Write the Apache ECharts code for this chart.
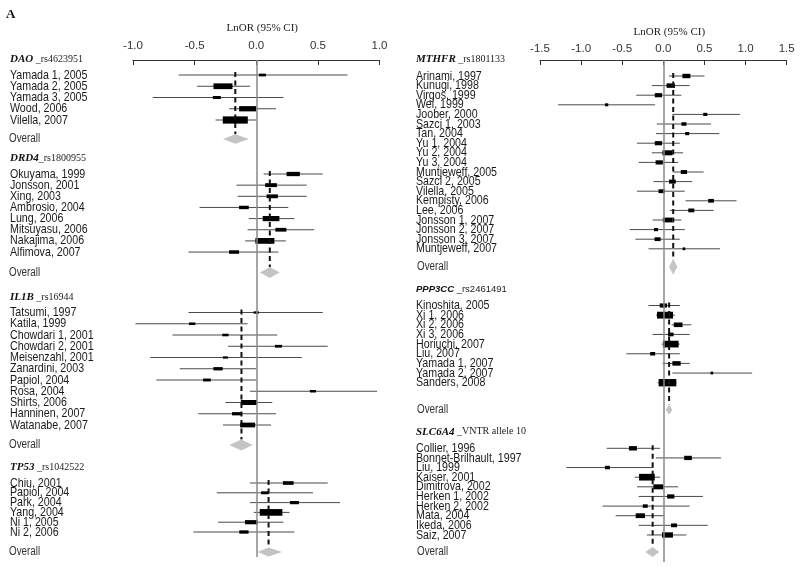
<!DOCTYPE html>
<html>
<head>
<meta charset="utf-8">
<script src="https://cdn.jsdelivr.net/npm/echarts@6/dist/echarts.min.js"></script>
<style>
  html, body { margin: 0; padding: 0; background: #fff; }
  #chart { width: 800px; height: 567px; }
</style>
</head>
<body>
<div id="chart"></div>
<script>
// ---------- data (LnOR, 95% CI, relative weight) ----------
const daoStudies = ['Yamada 1, 2005', 'Yamada 2, 2005', 'Yamada 3, 2005', 'Wood, 2006', 'Vilella, 2007'];
const daoEst = [0.05, -0.27, -0.32, -0.07, -0.17];
const daoLo = [-0.63, -0.48, -0.84, -0.22, -0.33];
const daoHi = [0.74, -0.05, 0.22, 0.16, 0.00];
const daoWeight = [4.9, 36.1, 6.4, 28.9, 62.5];
const daoOverall = [-0.17, -0.27, -0.06];

const drd4Studies = ['Okuyama, 1999', 'Jonsson, 2001', 'Xing, 2003', 'Ambrosio, 2004', 'Lung, 2006', 'Mitsuyasu, 2006', 'Nakajima, 2006', 'Alfimova, 2007'];
const drd4Est = [0.30, 0.12, 0.13, -0.10, 0.12, 0.20, 0.07, -0.18];
const drd4Lo = [0.06, -0.16, -0.15, -0.46, -0.06, -0.07, -0.09, -0.55];
const drd4Hi = [0.54, 0.41, 0.41, 0.26, 0.31, 0.47, 0.24, 0.18];
const drd4Weight = [17.7, 13.7, 12.8, 9.4, 27.9, 12.1, 36.1, 10];
const drd4Overall = [0.11, 0.03, 0.19];

const il1bStudies = ['Tatsumi, 1997', 'Katila, 1999', 'Chowdari 1, 2001', 'Chowdari 2, 2001', 'Meisenzahl, 2001', 'Zanardini, 2003', 'Papiol, 2004', 'Rosa, 2004', 'Shirts, 2006', 'Hanninen, 2007', 'Watanabe, 2007'];
const il1bEst = [0.00, -0.52, -0.25, 0.18, -0.25, -0.31, -0.40, 0.46, -0.06, -0.16, -0.07];
const il1bLo = [-0.55, -0.98, -0.68, -0.23, -0.86, -0.62, -0.81, -0.05, -0.25, -0.47, -0.27];
const il1bHi = [0.54, -0.07, 0.17, 0.58, 0.37, 0.00, 0.00, 0.98, 0.13, 0.16, 0.12];
const il1bWeight = [2.8, 4, 4, 4.9, 2.5, 8.6, 5.9, 3.6, 25.6, 8.1, 22.5];
const il1bOverall = [-0.12, -0.22, -0.03];

const tp53Studies = ['Chiu, 2001', 'Papiol, 2004', 'Park, 2004', 'Yang, 2004', 'Ni 1, 2005', 'Ni 2, 2006'];
const tp53Est = [0.26, 0.07, 0.31, 0.12, -0.04, -0.10];
const tp53Lo = [-0.05, -0.32, -0.05, -0.02, -0.31, -0.51];
const tp53Hi = [0.58, 0.46, 0.68, 0.27, 0.22, 0.31];
const tp53Weight = [11.4, 5.9, 8.1, 51.5, 16.1, 8.6];
const tp53Overall = [0.10, 0.01, 0.21];

const mthfrStudies = ['Arinami, 1997', 'Kunugi, 1998', 'Virgos, 1999', 'Wei, 1999', 'Joober, 2000', 'Sazci 1, 2003', 'Tan, 2004', 'Yu 1, 2004', 'Yu 2, 2004', 'Yu 3, 2004', 'Muntjeweff, 2005', 'Sazci 2, 2005', 'Vilella, 2005', 'Kempisty, 2006', 'Lee, 2006', 'Jonsson 1, 2007', 'Jonsson 2, 2007', 'Jonsson 3, 2007', 'Muntjeweff, 2007'];
const mthfrEst = [0.28, 0.09, -0.06, -0.69, 0.51, 0.25, 0.29, -0.06, 0.05, -0.05, 0.25, 0.11, -0.02, 0.58, 0.34, 0.05, -0.09, -0.07, 0.25];
const mthfrLo = [0.07, -0.14, -0.33, -1.28, 0.11, -0.08, -0.09, -0.32, -0.14, -0.30, 0.12, -0.12, -0.32, 0.27, 0.08, -0.13, -0.41, -0.34, -0.18];
const mthfrHi = [0.50, 0.32, 0.22, -0.10, 0.93, 0.58, 0.68, 0.20, 0.24, 0.18, 0.49, 0.35, 0.26, 0.89, 0.61, 0.22, 0.26, 0.20, 0.69];
const mthfrWeight = [6.4, 6.9, 5.3, 1.1, 1.6, 2.5, 1.6, 5.3, 10, 5.3, 4, 4.5, 4, 3.2, 3.6, 8.6, 1.6, 3.6, 0.7];
const mthfrOverall = [0.12, 0.07, 0.17];

const ppp3ccStudies = ['Kinoshita, 2005', 'Xi 1, 2006', 'Xi 2, 2006', 'Xi 3, 2006', 'Horiuchi, 2007', 'Liu, 2007', 'Yamada 1, 2007', 'Yamada 2, 2007', 'Sanders, 2008'];
const ppp3ccEst = [0.00, 0.02, 0.18, 0.09, 0.09, -0.13, 0.16, 0.59, 0.05];
const ppp3ccLo = [-0.18, -0.09, 0.10, -0.13, -0.02, -0.45, -0.01, 0.11, -0.07];
const ppp3ccHi = [0.20, 0.14, 0.34, 0.32, 0.20, 0.20, 0.32, 1.08, 0.16];
const ppp3ccWeight = [5.3, 25.6, 7.6, 3.2, 24.6, 2.5, 6.9, 0.7, 31.3];
const ppp3ccOverall = [0.07, 0.03, 0.11];

const slc6a4Studies = ['Collier, 1996', 'Bonnet-Brilhault, 1997', 'Liu, 1999', 'Kaiser, 2001', 'Dimitrova, 2002', 'Herken 1, 2002', 'Herken 2, 2002', 'Mata, 2004', 'Ikeda, 2006', 'Saiz, 2007'];
const slc6a4Est = [-0.37, 0.30, -0.68, -0.20, -0.06, 0.09, -0.22, -0.28, 0.13, 0.05];
const slc6a4Lo = [-0.69, -0.09, -1.18, -0.35, -0.32, -0.30, -0.74, -0.58, -0.30, -0.20];
const slc6a4Hi = [-0.04, 0.70, -0.12, -0.04, 0.18, 0.48, 0.32, 0.01, 0.54, 0.28];
const slc6a4Weight = [6.4, 5.9, 2.5, 24.6, 10, 5.3, 2.5, 8.6, 3.6, 12.1];
const slc6a4Overall = [-0.13, -0.22, -0.05];

const leftTicks = [-1, 1];
const rightTicks = [-1.5, 1.5];

// ---------- layout ----------
const SANS = '"Liberation Sans",Arial,sans-serif';
const SERIF = '"Liberation Serif","Times New Roman",serif';
const SQUEEZE = 0.82; // the source figure is horizontally compressed

const panels = [
  {
    left: 133, width: 246.5, bottom: 557, ticks: leftTicks, labelX: 10, overallX: 9,
    hdrGap: 15.5, labelMargin: 8, nameGap: 26, boxH: w => 1 + 0.25 * w,
    groups: [
      { gene: 'DAO', tag: ' _rs4623951', studies: daoStudies, est: daoEst, lo: daoLo, hi: daoHi, weight: daoWeight, overall: daoOverall, first: 75, step: 11.25, ovGap: 19, dh: 9.5 },
      { gene: 'DRD4', tag: '_rs1800955', studies: drd4Studies, est: drd4Est, lo: drd4Lo, hi: drd4Hi, weight: drd4Weight, overall: drd4Overall, first: 174, step: 11.15, ovGap: 20.5, dh: 11 },
      { gene: 'IL1B', tag: ' _rs16944', studies: il1bStudies, est: il1bEst, lo: il1bLo, hi: il1bHi, weight: il1bWeight, overall: il1bOverall, first: 312.5, step: 11.25, ovGap: 20, dh: 11 },
      { gene: 'TP53', tag: ' _rs1042522', studies: tp53Studies, est: tp53Est, lo: tp53Lo, hi: tp53Hi, weight: tp53Weight, overall: tp53Overall, first: 483, step: 9.8, ovGap: 20, dh: 9 }
    ]
  },
  {
    left: 540, width: 246.7, bottom: 562, ticks: rightTicks, labelX: 416, overallX: 417,
    hdrGap: 16.5, labelMargin: 5, nameGap: 22, boxH: w => 2 + 0.3 * w,
    groups: [
      { gene: 'MTHFR', tag: ' _rs1801133', studies: mthfrStudies, est: mthfrEst, lo: mthfrLo, hi: mthfrHi, weight: mthfrWeight, overall: mthfrOverall, first: 76, step: 9.6, ovGap: 18, dh: 16 },
      { gene: 'PPP3CC', tag: ' _rs2461491', sans: true, studies: ppp3ccStudies, est: ppp3ccEst, lo: ppp3ccLo, hi: ppp3ccHi, weight: ppp3ccWeight, overall: ppp3ccOverall, first: 305.5, step: 9.65, ovGap: 27, dh: 10 },
      { gene: 'SLC6A4', tag: ' _VNTR allele 10', studies: slc6a4Studies, est: slc6a4Est, lo: slc6a4Lo, hi: slc6a4Hi, weight: slc6a4Weight, overall: slc6a4Overall, first: 448.3, step: 9.63, ovGap: 17, dh: 10 }
    ]
  }
];

function buildRows(panel) {
  const rows = [];
  panel.groups.forEach(g => {
    rows.push({ kind: 'header', y: g.first - panel.hdrGap, gene: g.gene, tag: g.tag, sans: g.sans, est: 0, lo: 0, hi: 0 });
    g.studies.forEach((name, i) => {
      rows.push({ kind: 'study', y: g.first + i * g.step, name, est: g.est[i], lo: g.lo[i], hi: g.hi[i], w: g.weight[i] });
    });
    const last = g.first + (g.studies.length - 1) * g.step;
    rows.push({ kind: 'overall', y: last + g.ovGap, est: g.overall[0], lo: g.overall[1], hi: g.overall[2], top: g.first - 3, dh: g.dh });
  });
  return rows;
}

function label(x, y, text, size, fill) {
  return {
    type: 'text', x: x, y: y, scaleX: SQUEEZE,
    style: { x: 0, y: 0, verticalAlign: 'middle', text: text, fontFamily: SANS, fontSize: size, fill: fill }
  };
}

function makeRender(panel, rows) {
  return function (params, api) {
    const r = rows[params.dataIndex];
    const y = api.coord([0, r.y])[1];
    const kids = [];
    if (r.kind === 'header') {
      const gf = r.sans ? SANS : SERIF;
      kids.push({
        type: 'text',
        style: {
          x: panel.labelX, y: y, verticalAlign: 'middle',
          text: '{g|' + r.gene + '}{s|' + r.tag + '}',
          rich: {
            g: { fontFamily: gf, fontWeight: 'bold', fontStyle: 'italic', fontSize: r.sans ? 9.5 : 11, fill: '#111' },
            s: { fontFamily: gf, fontSize: r.sans ? 9.5 : 10, fill: '#222' }
          }
        }
      });
    } else if (r.kind === 'study') {
      const a = api.coord([r.lo, r.y]);
      const b = api.coord([r.hi, r.y]);
      const c = api.coord([r.est, r.y]);
      const bw = Math.sqrt(r.w * 10);
      const bh = panel.boxH(bw);
      kids.push({ type: 'line', shape: { x1: a[0], y1: y, x2: b[0], y2: y }, style: { stroke: '#4a4a4a', lineWidth: 1 } });
      kids.push({ type: 'rect', shape: { x: c[0] - bw / 2, y: y - bh / 2, width: bw, height: bh }, style: { fill: '#000' } });
      kids.push(label(panel.labelX, y, r.name, 13, '#1a1a1a'));
    } else {
      const a = api.coord([r.lo, r.y]);
      const b = api.coord([r.hi, r.y]);
      const c = api.coord([r.est, r.y]);
      const t = api.coord([r.est, r.top]);
      kids.push({
        type: 'line',
        shape: { x1: c[0], y1: t[1], x2: c[0], y2: y - r.dh / 2 },
        style: { stroke: '#111', lineWidth: 2, lineDash: [5, 3.5] }
      });
      kids.push({
        type: 'polygon',
        shape: { points: [[a[0], y], [c[0], y - r.dh / 2], [b[0], y], [c[0], y + r.dh / 2]] },
        style: { fill: '#c4c4c4' }
      });
      kids.push(label(panel.overallX, y, 'Overall', 12, '#333'));
    }
    return { type: 'group', children: kids };
  };
}

const chart = echarts.init(document.getElementById('chart'), null, { renderer: 'canvas' });

const grids = [], xAxes = [], yAxes = [], series = [];
panels.forEach((p, i) => {
  const rows = buildRows(p);
  grids.push({ left: p.left, width: p.width, top: 60, height: p.bottom - 60 });
  xAxes.push({
    gridIndex: i, type: 'value', position: 'top',
    min: p.ticks[0], max: p.ticks[1], interval: 0.5,
    axisLine: { show: true, onZero: false, lineStyle: { color: '#333', width: 1 } },
    axisTick: { show: true, inside: true, length: 5, lineStyle: { color: '#333' } },
    axisLabel: { margin: p.labelMargin, formatter: v => v.toFixed(1), fontFamily: SANS, fontSize: 11.5, color: '#333' },
    splitLine: { show: false },
    name: 'LnOR (95% CI)', nameLocation: 'middle', nameGap: p.nameGap,
    nameTextStyle: { fontFamily: SERIF, fontSize: 11, color: '#222', padding: [0, 0, 0, 12] }
  });
  yAxes.push({ gridIndex: i, type: 'value', inverse: true, min: 60, max: p.bottom, show: false });
  series.push({
    type: 'custom', xAxisIndex: i, yAxisIndex: i, clip: false, silent: true,
    renderItem: makeRender(p, rows),
    encode: { x: [0, 1, 2], y: 3 },
    data: rows.map(r => [r.est, r.lo, r.hi, r.y]),
    markLine: {
      silent: true, symbol: ['none', 'none'], label: { show: false },
      lineStyle: { color: '#888', width: 1.5, type: 'solid' },
      data: [{ xAxis: 0 }]
    },
    z: 3
  });
});

chart.setOption({
  animation: false,
  backgroundColor: '#fff',
  grid: grids,
  xAxis: xAxes,
  yAxis: yAxes,
  series: series,
  graphic: [
    { type: 'text', left: 6, top: 8, style: { text: 'A', fontFamily: SERIF, fontWeight: 'bold', fontSize: 13, fill: '#111' } }
  ]
});
</script>
</body>
</html>
